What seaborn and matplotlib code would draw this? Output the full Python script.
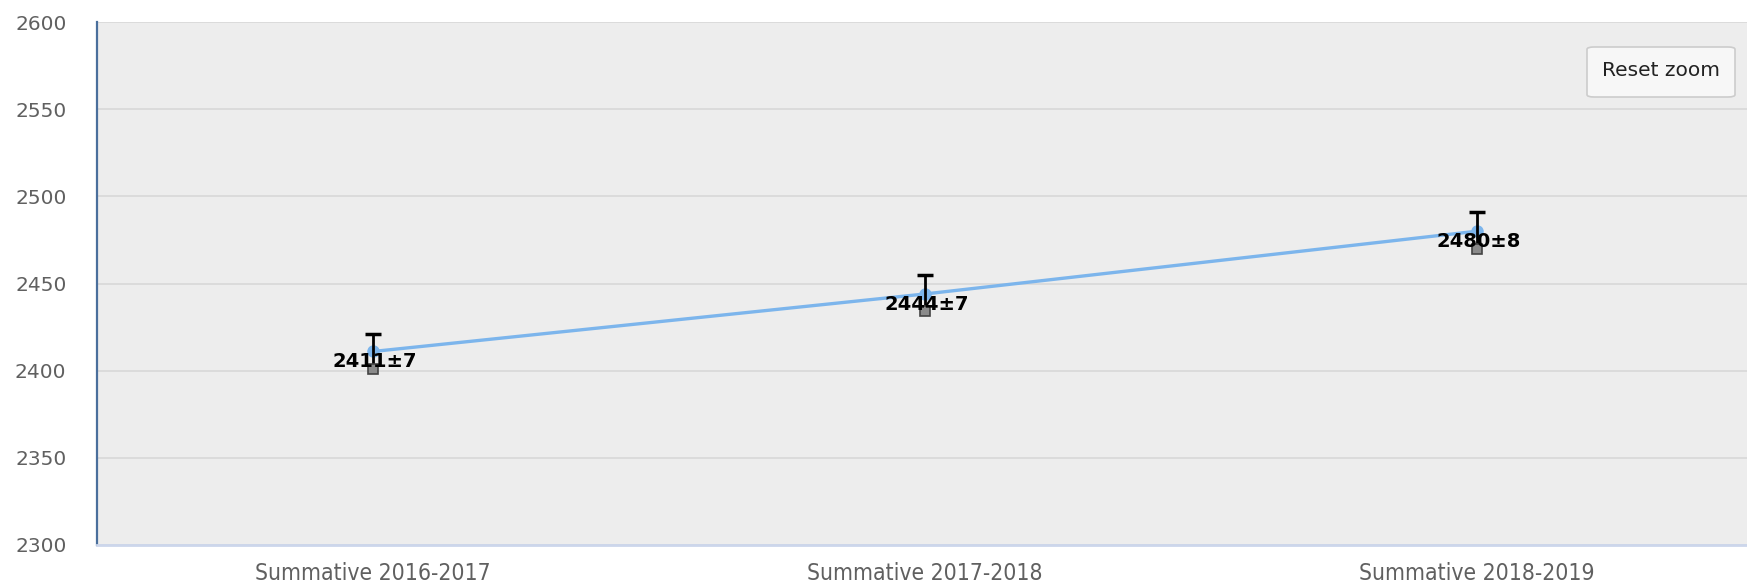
import pandas as pd
from matplotlib import pyplot as plt
from matplotlib.patches import FancyBboxPatch
import seaborn as sns

# Chart data
terms = ["Summative 2016-2017", "Summative 2017-2018", "Summative 2018-2019"]
scores = [2411, 2444, 2480]
margins = [7, 7, 8]
# error bar ends as drawn in the picture
err_low = [2401, 2434, 2470]
err_high = [2421, 2455, 2491]
y_ticks = [2300, 2350, 2400, 2450, 2500, 2550, 2600]

df = pd.DataFrame({"term": terms, "score": scores})

sns.set_theme(style="white")
plt.rcParams['font.family'] = ['DejaVu Sans']

fig = plt.figure(figsize=(17.47, 5.83), dpi=100)
ax = fig.add_axes([97 / 1747, 38 / 583, 1656 / 1747, 523 / 583])
ax.set_facecolor("#ededed")

sns.lineplot(data=df, x="term", y="score", sort=False, ax=ax,
             color="#7cb5ec", linewidth=2.4, marker="o", markersize=9,
             markeredgewidth=0, zorder=3)

# error bars: black stem and top cap, gray square at the bottom
low = [s - l for s, l in zip(scores, err_low)]
high = [h - s for s, h in zip(scores, err_high)]
ax.errorbar(terms, scores, yerr=[low, high], fmt="none", ecolor="black",
            elinewidth=2, capsize=0, zorder=4)
ax.plot(terms, err_high, linestyle="none", marker="_", markersize=11,
        markeredgewidth=2.5, color="black", zorder=4)
ax.plot(terms, err_low, linestyle="none", marker="s", markersize=6.5,
        markerfacecolor="#8a8a8a", markeredgecolor="#444444",
        markeredgewidth=1.2, zorder=4)

for t, s, m in zip(terms, scores, margins):
    ax.annotate(f"{s}±{m}", (t, s), xytext=(1, -7.5), textcoords="offset points",
                ha="center", va="center", fontsize=14, fontweight="bold",
                color="black", zorder=5)

ax.set_xlim(-0.5, 2.5)
ax.set_ylim(2300, 2600)
ax.set_yticks(y_ticks)
ax.yaxis.grid(True, color="#d8d8d8", linewidth=1.2)
ax.set_axisbelow(True)
ax.set_xlabel("")
ax.set_ylabel("")

ax.tick_params(axis="y", length=0, pad=22, labelsize=14.5, labelcolor="#606060")
ax.tick_params(axis="x", length=0, pad=12, labelsize=16.5, labelcolor="#606060")
for lab in ax.get_xticklabels():
    lab.set_fontstretch("condensed")
ax.set_xticks([-0.5, 0.5, 1.5, 2.5], minor=True)
ax.tick_params(axis="x", which="minor", length=11, width=1.2, color="#ccd6eb")

for side in ["top", "right"]:
    ax.spines[side].set_visible(False)
ax.spines["left"].set_color("#4a6f9c")
ax.spines["left"].set_linewidth(1.6)
ax.spines["bottom"].set_color("#ccd6eb")
ax.spines["bottom"].set_linewidth(2)

# "Reset zoom" button
btn = FancyBboxPatch((1587 / 1747, 486 / 583), 148 / 1747, 50 / 583,
                     boxstyle="round,pad=0,rounding_size=0.004",
                     transform=fig.transFigure, facecolor="#f7f7f7",
                     edgecolor="#cccccc", linewidth=1.2, zorder=10)
fig.patches.append(btn)
fig.text(1661 / 1747, 512 / 583, "Reset zoom", ha="center", va="center",
         fontsize=14.5, color="#222222", zorder=11)

fig.savefig("out.png", dpi=100)
